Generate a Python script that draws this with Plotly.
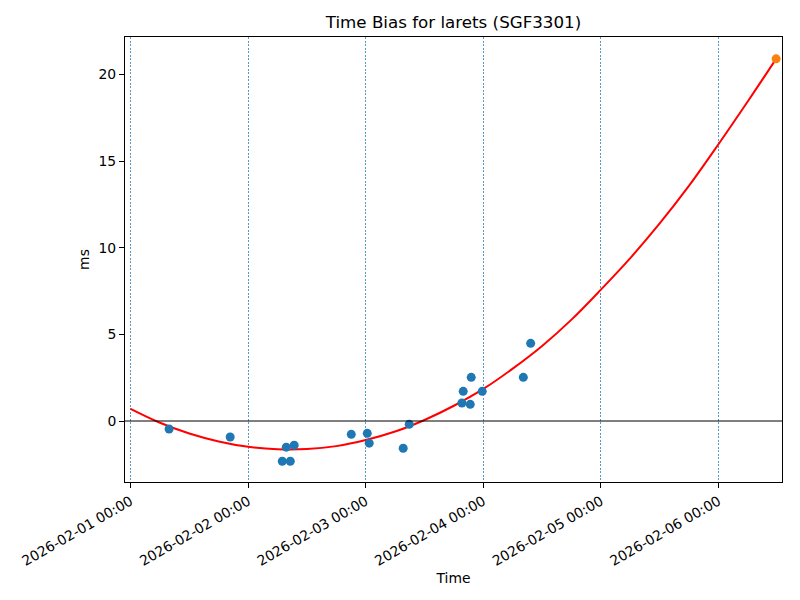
import plotly.graph_objects as go

# Measured time-bias points (datetime, ms)
obs_times = [
    "2026-02-01 07:52", "2026-02-01 20:20", "2026-02-02 06:58", "2026-02-02 07:47",
    "2026-02-02 08:36", "2026-02-02 09:24", "2026-02-02 21:03", "2026-02-03 00:19",
    "2026-02-03 00:43", "2026-02-03 07:39", "2026-02-03 08:53", "2026-02-03 19:38",
    "2026-02-03 19:54", "2026-02-03 21:20", "2026-02-03 21:32", "2026-02-03 23:47",
    "2026-02-04 08:10", "2026-02-04 09:40",
]
obs_bias = [
    -0.46, -0.92, -2.32, -1.51,
    -2.32, -1.40, -0.77, -0.71,
    -1.28, -1.57, -0.19, 1.04,
    1.71, 0.96, 2.52, 1.71,
    2.52, 4.48,
]

# Predicted point (orange)
pred_time = ["2026-02-06 11:46"]
pred_bias = [20.9]

# Fitted curve samples
fit_times = [
    "2026-02-01 00:00", "2026-02-01 06:00", "2026-02-01 12:00", "2026-02-01 18:00",
    "2026-02-02 00:00", "2026-02-02 06:00", "2026-02-02 12:00", "2026-02-02 18:00",
    "2026-02-03 00:00", "2026-02-03 06:00", "2026-02-03 12:00", "2026-02-03 18:00",
    "2026-02-04 00:00", "2026-02-04 06:00", "2026-02-04 12:00", "2026-02-04 18:00",
    "2026-02-05 00:00", "2026-02-05 06:00", "2026-02-05 12:00", "2026-02-05 18:00",
    "2026-02-06 00:00", "2026-02-06 06:00", "2026-02-06 11:46",
]
fit_bias = [
    0.70, -0.10, -0.72, -1.18,
    -1.49, -1.63, -1.62, -1.45,
    -1.10, -0.61, 0.06, 0.88,
    1.85, 3.02, 4.33, 5.85,
    7.58, 9.40, 11.40, 13.58,
    15.97, 18.45, 20.90,
]

x_tick_vals = ["2026-02-01", "2026-02-02", "2026-02-03", "2026-02-04", "2026-02-05", "2026-02-06"]
x_tick_text = ["2026-02-01 00:00", "2026-02-02 00:00", "2026-02-03 00:00",
               "2026-02-04 00:00", "2026-02-05 00:00", "2026-02-06 00:00"]
y_tick_vals = [0, 5, 10, 15, 20]

FONT = "DejaVu Sans"

fig = go.Figure()
fig.add_trace(go.Scatter(x=fit_times, y=fit_bias, mode="lines",
                         line=dict(color="red", width=2, shape="spline"),
                         showlegend=False, hoverinfo="skip"))
fig.add_trace(go.Scatter(x=obs_times, y=obs_bias, mode="markers",
                         marker=dict(color="#1f77b4", size=9), showlegend=False))
fig.add_trace(go.Scatter(x=pred_time, y=pred_bias, mode="markers",
                         marker=dict(color="#ff7f0e", size=9), showlegend=False,
                         cliponaxis=False))

fig.add_hline(y=0, line=dict(color="black", width=1.1))

fig.update_layout(
    width=800, height=600,
    margin=dict(l=125, r=18, t=37, b=118),
    paper_bgcolor="white", plot_bgcolor="white",
    font=dict(family=FONT, size=13.9, color="black"),
    title=dict(text="Time Bias for larets (SGF3301)", x=0.5, xref="paper",
               y=1 - 22 / 600, yanchor="middle",
               font=dict(family=FONT, size=16.7, color="black")),
    xaxis=dict(
        type="date",
        range=["2026-01-31 22:52", "2026-02-06 12:58"],
        tickvals=x_tick_vals, ticktext=x_tick_text, tickangle=-30,
        ticks="outside", ticklen=5, tickcolor="black", tickwidth=1,
        showline=True, linecolor="black", linewidth=1, mirror=True,
        showgrid=True, gridcolor="rgba(31,119,180,0.75)", gridwidth=0.6,
        griddash="2px,1.5px",
        zeroline=False,
        title=dict(text="Time", standoff=5, font=dict(size=13.9)),
        tickfont=dict(size=13.9),
    ),
    yaxis=dict(
        range=[-3.52, 22.16],
        tickvals=y_tick_vals,
        ticks="outside", ticklen=5, tickcolor="black", tickwidth=1,
        showline=True, linecolor="black", linewidth=1, mirror=True,
        showgrid=False, zeroline=False,
        title=dict(text="ms", standoff=5, font=dict(size=13.9)),
        tickfont=dict(size=13.9),
    ),
)

fig.write_html("out.html",
               config={"displayModeBar": False},
               post_script="document.body.style.margin='0';document.body.style.overflow='hidden';")
